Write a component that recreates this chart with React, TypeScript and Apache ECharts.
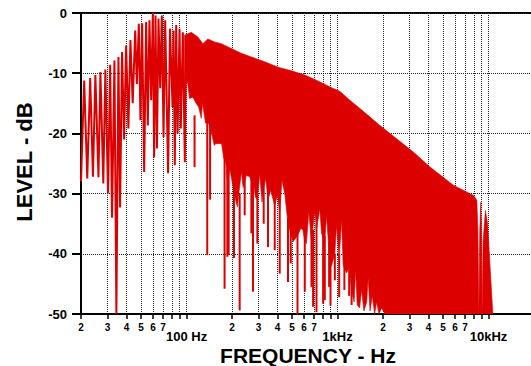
import React, { useEffect, useRef } from 'react';
import * as echarts from 'echarts';

// ---------- data: [frequency Hz, level dB] ----------
// low-frequency comb (alternating peaks / troughs)
const lowComb: [number, number][] = [
  [20.0, -28], [21.0, -11.2], [22.0, -27.5], [23.0, -10.8], [24.0, -27.2], [24.9, -10.3], [26.1, -27.3], [26.9, -9.8],
  [28.1, -28.3], [29.0, -9.4], [30.2, -30], [31.2, -8.6], [32.1, -34], [33.3, -7.9], [34.3, -50], [35.4, -7.3],
  [36.3, -32.3], [37.4, -6.5], [38.6, -21], [39.8, -5.4], [41.2, -19.2], [42.5, -4.5], [44.0, -15], [45.7, -2.9],
  [46.9, -11.8], [48.3, -1.8], [49.5, -17.8], [50.8, -1.7], [52.4, -26.4], [54.0, -1.5], [55.4, -18.7], [56.8, -1.2],
  [58.3, -14.5], [59.8, 0], [61.0, -24], [62.3, -0.4], [63.7, -22.5], [65.2, -0.9], [66.9, -12.5], [68.6, -0.4],
  [70.4, -20.6], [72.2, -1.2], [75.5, -26.6], [77.7, -2.6], [80.8, -15.6], [82.0, -2.9], [83.6, -25.3], [85.4, -2],
  [87.2, -20], [89.9, -2.6], [91.6, -19.2], [94.5, -3.2], [97.4, -24.8], [99.5, -3.7],
];

// dense band: upper envelope
const bandTop: [number, number][] = [
  [97, -3.7], [107.4, -3.2], [118.9, -4.0], [128.3, -5.1], [138.4, -4.3], [153.4, -4.8], [169.9, -5.1], [198, -5.9],
  [230.7, -6.7], [268.7, -7.3], [329.4, -8.1], [403.6, -9.0], [495.5, -9.6], [606.7, -10.3], [743.3, -11.3], [912, -12.4],
  [1035, -13.0], [1207, -14.5], [1479, -16.3], [1910, -18.7], [2464, -20.9], [3176, -23.1], [4098, -25.6], [5848, -28.6],
  [7943, -30.3], [8366, -31.1], [8500, -36], [8625, -50], [8750, -36], [8892, -31.4], [8980, -36], [9070, -50],
  [9200, -38], [9530, -32.8], [9863, -35], [10090, -39.4], [10680, -50],
];

// dense band: lower edge of the solid part
const bandFloor: [number, number][] = [
  [97, -12], [101.5, -11.5], [104.7, -14.2], [110.1, -14], [115.6, -15], [120.2, -15.6], [125.2, -17.5], [127.6, -15],
  [133.6, -18.3], [139.9, -18.3], [146.5, -20], [152.7, -22], [155.8, -21.7], [170.6, -21.7], [176, -24], [182.3, -25],
  [186.2, -27.8], [193.8, -26], [201.1, -28.3], [211.4, -31.1], [217, -32.2], [222, -30], [230.7, -26.4], [237, -29],
  [248.9, -27], [261.8, -27.2], [280, -29], [285.8, -30.6], [294.4, -31], [305.1, -26.7], [316, -31.4], [324.3, -29],
  [334.2, -27.5], [346.4, -31], [360.9, -29.5], [383.7, -32], [399.9, -30.3], [414, -33], [428.5, -27.8], [446.7, -30],
  [469.9, -35], [507, -38], [542.9, -37], [570.9, -35.8], [588.8, -36], [606.7, -38], [622.3, -38.3], [644.9, -33],
  [672, -38], [706.3, -32.8], [725.5, -36], [763.1, -32.5], [783.1, -36.6], [823.5, -38], [845.3, -33.6], [879.6, -40],
  [912, -42], [959.4, -40], [984.9, -35.3], [1025, -41], [1063, -34.2], [1089, -41.9], [1148, -43.2], [1194, -42.2],
  [1239, -46.3], [1288, -48], [1317, -42.7], [1350, -48.5], [1400, -49], [1442, -46], [1495, -49.5], [1560, -48],
  [1596, -44], [1640, -49.5], [1700, -47], [1760, -50], [1815, -48], [1880, -50], [1959, -49], [2061, -50], [10680, -50],
];

// deep notches below the solid part: [frequency Hz, top dB, bottom dB]
const notches: [number, number, number][] = [
  [113.0, -17, -25.6], [137.1, -18.3, -40.2], [143.2, -18.3, -31], [178.6, -22, -45.8], [186.2, -26, -40.5],
  [190.0, -26, -40.2], [206.1, -28.3, -40.7], [224.8, -30, -49.4], [242.7, -27, -33.6], [268.7, -27, -36.6],
  [275.4, -28, -46.3], [294.4, -30, -38.3], [324.3, -28, -35], [346.4, -28, -38.9], [383.7, -30, -39.4],
  [414.0, -30, -43.3], [469.9, -34, -44.7], [489.8, -35, -41.6], [542.9, -36, -50], [606.7, -36, -46.3],
  [672.0, -36, -45.5], [688.7, -36, -48.8], [725.5, -35, -49.7], [802.6, -36, -48.3], [823.5, -37, -47.7],
  [879.6, -38, -45.5], [898.5, -40, -48.6], [959.4, -40, -44.4], [1025, -40, -47.2], [1110, -42, -46],
  [1194, -42, -47], [1239, -44, -48.5],
];

// axes
const freqMin = 20;
const freqMax = 20000;
const levelMin = -50;
const levelMax = 0;
const levelStep = 10;
const gridFreqs = [20, 30, 40, 50, 60, 70, 80, 90, 100, 200, 300, 400, 500, 600, 700, 800, 900, 1000, 2000, 3000, 4000, 5000, 6000, 7000, 8000, 9000, 10000];
const digitLabelFreqs = [20, 30, 40, 50, 60, 70, 200, 300, 400, 500, 600, 700, 2000, 3000, 4000, 5000, 6000, 7000];
const decadeFreqs = [100, 1000, 10000];
const decadeLabels = ['100 Hz', '1kHz', '10kHz'];

const RED = '#dd0000';
const FONT = '"Liberation Sans", Arial, Helvetica, sans-serif';

const lg = (f: number) => Math.log10(f);

export default function App() {
  const ref = useRef<HTMLDivElement>(null);
  useEffect(() => {
    if (!ref.current) return;
    const chart = echarts.init(ref.current, null, { renderer: 'svg' });
    const lowData = lowComb.map(([f, v]) => [lg(f), v]);
    const topPts = bandTop.map(([f, v]) => [lg(f), v]);
    const botPts = bandFloor.map(([f, v]) => [lg(f), v]).reverse();
    const outline = topPts.concat(botPts);
    const notchData = notches.map(([f, a, b]) => [lg(f), a, b]);

    chart.setOption({
      animation: false,
      backgroundColor: '#fff',
      grid: {
        left: 81, right: -3, top: 13, bottom: 52,
        show: true, borderColor: '#000', borderWidth: 2,
        containLabel: false, outerBoundsMode: 'none',
      },
      xAxis: [
        {
          type: 'value', min: lg(freqMin), max: lg(freqMax),
          axisLine: { show: true, onZero: false, lineStyle: { color: '#000', width: 2 } },
          axisTick: { show: true, length: 5, customValues: gridFreqs.map(lg), lineStyle: { color: '#000', width: 1.5 } },
          axisLabel: {
            customValues: digitLabelFreqs.map(lg), margin: 8,
            fontSize: 10, fontWeight: 'bold', color: '#000', fontFamily: FONT,
            formatter: (v: number) => String(Math.round(Math.pow(10, v - Math.floor(v + 1e-9)))),
          },
          splitLine: { show: true, lineStyle: { type: 'dotted', color: '#222', width: 1 } },
        },
        {
          type: 'value', min: lg(freqMin), max: lg(freqMax), position: 'bottom',
          axisLine: { show: false }, axisTick: { show: false }, splitLine: { show: false },
          axisLabel: {
            customValues: decadeFreqs.map(lg), margin: 16.5, lineHeight: 12,
            fontSize: 13, fontWeight: 'bold', color: '#000', fontFamily: FONT,
            formatter: (v: number) => {
              let best = 0;
              decadeFreqs.forEach((f, i) => { if (Math.abs(lg(f) - v) < Math.abs(lg(decadeFreqs[best]) - v)) best = i; });
              return decadeLabels[best];
            },
          },
        },
      ],
      yAxis: {
        type: 'value', min: levelMin, max: levelMax, interval: levelStep,
        axisLine: { show: true, onZero: false, lineStyle: { color: '#000', width: 2 } },
        axisTick: { show: true, length: 9, lineStyle: { color: '#000', width: 2 } },
        axisLabel: { margin: 14, fontSize: 13, fontWeight: 'bold', color: '#000', fontFamily: FONT },
        splitLine: { show: true, lineStyle: { type: 'dotted', color: '#222', width: 1 } },
      },
      graphic: [
        {
          type: 'text', x: 24, y: 162, rotation: Math.PI / 2,
          style: { text: 'LEVEL - dB', font: `bold 22px ${FONT}`, fill: '#000', textAlign: 'center', textVerticalAlign: 'middle' },
        },
        {
          type: 'text', x: 308, y: 355,
          style: { text: 'FREQUENCY - Hz', font: `bold 21px ${FONT}`, lineHeight: 19, fill: '#000', textAlign: 'center', textVerticalAlign: 'middle' },
        },
      ],
      series: [
        {
          type: 'custom', coordinateSystem: 'cartesian2d', xAxisIndex: 0, yAxisIndex: 0,
          data: [[lg(1000), -20]], encode: { x: 0, y: 1 }, clip: true, silent: true,
          renderItem: (_p: any, api: any) => ({
            type: 'polygon',
            shape: { points: outline.map((p) => api.coord(p)) },
            style: { fill: RED, stroke: RED, lineWidth: 0.6 },
          }),
        },
        {
          type: 'custom', coordinateSystem: 'cartesian2d', xAxisIndex: 0, yAxisIndex: 0,
          data: notchData, encode: { x: 0, y: [1, 2] }, clip: true, silent: true,
          renderItem: (_p: any, api: any) => {
            const a = api.coord([api.value(0), api.value(1)]);
            const b = api.coord([api.value(0), api.value(2)]);
            return {
              type: 'line',
              shape: { x1: a[0], y1: a[1], x2: b[0], y2: b[1] },
              style: { stroke: RED, lineWidth: 2 },
            };
          },
        },
        {
          type: 'line', xAxisIndex: 0, yAxisIndex: 0, data: lowData, symbol: 'none', silent: true,
          lineStyle: { color: RED, width: 2 }, clip: true,
        },
      ],
    });
    return () => chart.dispose();
  }, []);
  return <div ref={ref} style={{ position: 'fixed', left: 0, top: 0, width: 531, height: 366, background: '#fff' }} />;
}
